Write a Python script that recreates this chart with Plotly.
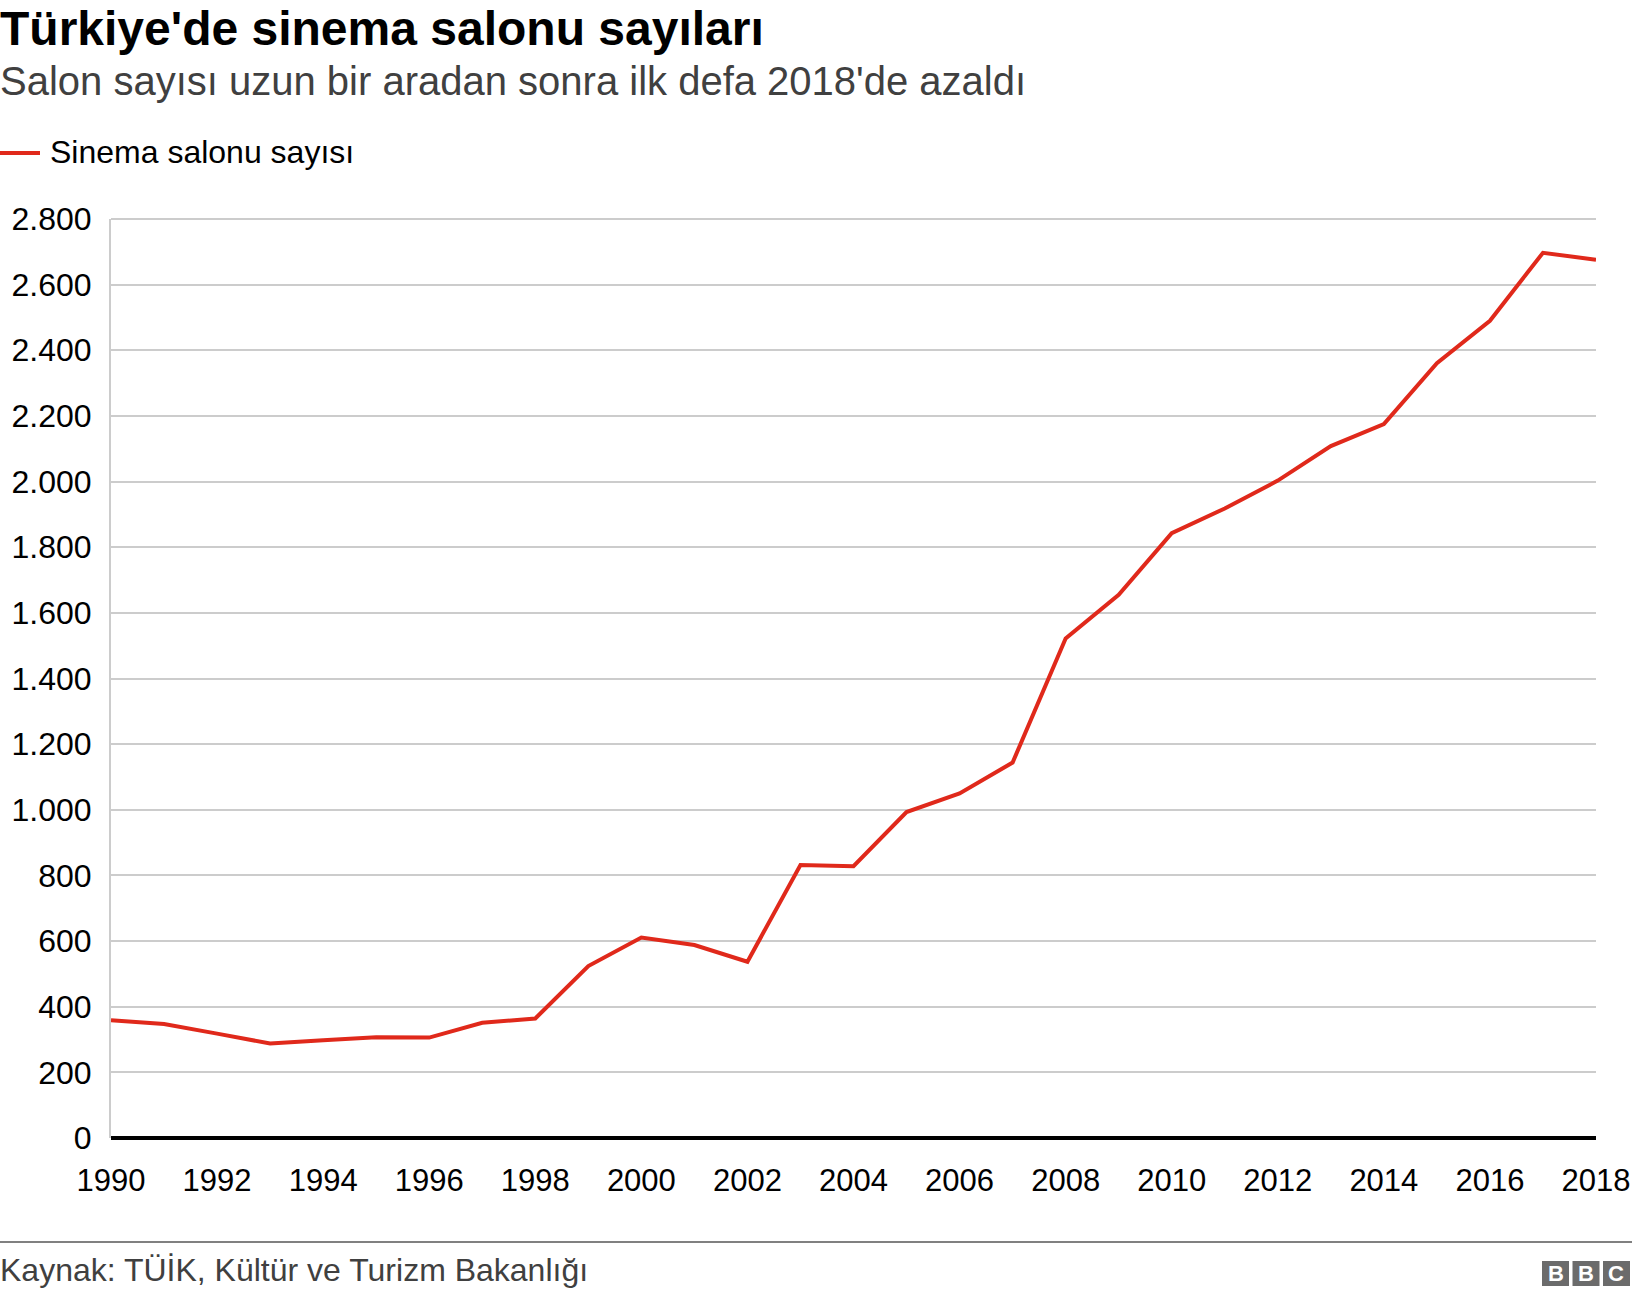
import plotly.graph_objects as go

# ---- data ----
years = list(range(1990, 2019))
salon_sayisi = [359, 347, 318, 288, 298, 307, 306, 351, 364, 524, 611, 588, 537,
                832, 828, 993, 1050, 1144, 1522, 1655, 1843, 1918, 2003, 2108,
                2175, 2361, 2490, 2697, 2676]
x_ticks = list(range(1990, 2019, 2))
y_ticks = list(range(0, 2801, 200))

title = "Türkiye'de sinema salonu sayıları"
subtitle = "Salon sayısı uzun bir aradan sonra ilk defa 2018'de azaldı"
legend_label = "Sinema salonu sayısı"
source = "Kaynak: TÜİK, Kültür ve Turizm Bakanlığı"

# ---- layout geometry (pixels) ----
W, H = 1632, 1298
L, R, T, B = 111, 36, 219, 160
PW, PH = W - L - R, H - T - B
FONT = "Liberation Sans, Arial, Helvetica, sans-serif"
RED = "#e0291b"
GRID = "#cccccc"


def xp(px):
    return (px - L) / PW


def yp(py):
    return (H - B - py) / PH


fig = go.Figure()
fig.add_trace(go.Scatter(
    x=years, y=salon_sayisi, mode="lines", name=legend_label,
    line=dict(color=RED, width=4), showlegend=False,
    hovertemplate="%{x}: %{y:,d}<extra></extra>",
))

annotations = [
    dict(text=f"<b>{title}</b>", x=xp(-2), y=yp(29), xanchor="left", yanchor="middle",
         font=dict(size=48, color="#000000", family=FONT)),
    dict(text=subtitle, x=xp(-2), y=yp(81), xanchor="left", yanchor="middle",
         font=dict(size=40, color="#404040", family=FONT)),
    dict(text=legend_label, x=xp(48), y=yp(152), xanchor="left", yanchor="middle",
         font=dict(size=32, color="#000000", family=FONT)),
    dict(text=source, x=xp(-2), y=yp(1270), xanchor="left", yanchor="middle",
         font=dict(size=32, color="#404040", family=FONT)),
]

shapes = [
    # legend swatch
    dict(type="line", xref="paper", yref="paper", x0=xp(0), x1=xp(40), y0=yp(153), y1=yp(153),
         line=dict(color=RED, width=4)),
    # top gridline (at the top of the value axis)
    dict(type="line", xref="paper", yref="paper", x0=0, x1=1, y0=1, y1=1,
         line=dict(color=GRID, width=2), layer="below"),
    # baseline at zero (bottom of the value axis)
    dict(type="line", xref="paper", yref="paper", x0=0, x1=1, y0=0, y1=0,
         line=dict(color="#000000", width=4), layer="above"),
    # footer rule
    dict(type="line", xref="paper", yref="paper", x0=xp(0), x1=xp(W), y0=yp(1242), y1=yp(1242),
         line=dict(color="#808080", width=2)),
]

# BBC logo blocks
for i, letter in enumerate("BBC"):
    x0 = 1542 + i * 30.5
    shapes.append(dict(type="rect", xref="paper", yref="paper",
                       x0=xp(x0), x1=xp(x0 + 27), y0=yp(1286), y1=yp(1261),
                       fillcolor="#6b6b6b", line=dict(width=0), layer="above"))
    annotations.append(dict(text=f"<b>{letter}</b>", x=xp(x0 + 13.5), y=yp(1273.5),
                            xanchor="center", yanchor="middle", showarrow=False,
                            font=dict(size=22, color="#ffffff", family=FONT)))

for a in annotations:
    a.setdefault("showarrow", False)
    a["xref"] = "paper"
    a["yref"] = "paper"

fig.update_layout(
    width=W, height=H, autosize=False,
    margin=dict(l=L, r=R, t=T, b=B, pad=0, autoexpand=False),
    paper_bgcolor="#ffffff", plot_bgcolor="#ffffff",
    separators=",.",
    font=dict(family=FONT, color="#000000"),
    annotations=annotations, shapes=shapes,
    showlegend=False,
)
fig.update_xaxes(
    range=[1990, 2018], tickvals=x_ticks, ticktext=[str(v) for v in x_ticks],
    showgrid=False, zeroline=False, showline=False, automargin=False,
    ticks="", ticklabelstandoff=21,
    tickfont=dict(size=31, color="#000000", family=FONT),
)
fig.update_yaxes(
    range=[0, 2800], tickvals=y_ticks, tickformat=",d",
    showgrid=True, gridcolor=GRID, gridwidth=2,
    zeroline=False, showline=True, linecolor=GRID, linewidth=2,
    automargin=False,
    ticks="", ticklabelstandoff=11,
    tickfont=dict(size=32, color="#000000", family=FONT),
)

fig.write_html("out.html")
